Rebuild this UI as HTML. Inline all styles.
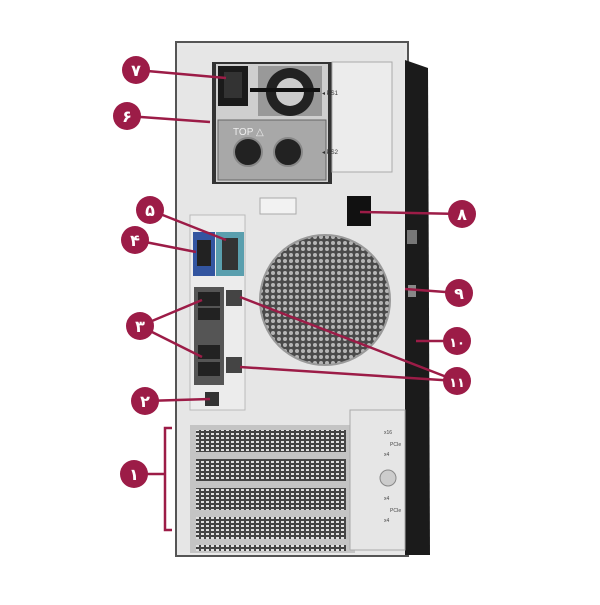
<!DOCTYPE html>
<html><head><meta charset="utf-8"><style>
body{margin:0;width:600px;height:600px;background:#fff;overflow:hidden;font-family:"Liberation Sans","DejaVu Sans",sans-serif}
</style></head><body>
<svg width="600" height="600" viewBox="0 0 600 600" xmlns="http://www.w3.org/2000/svg">
<defs>
<pattern id="mesh" width="6" height="6" patternUnits="userSpaceOnUse"><rect width="6" height="6" fill="#4a4a4a"/><circle cx="3" cy="3" r="2" fill="#b5b5b5"/></pattern>
<pattern id="grille" width="5" height="4" patternUnits="userSpaceOnUse"><rect width="5" height="4" fill="#444"/><rect x="1" y="1" width="3" height="2" fill="#e0e0e0"/></pattern>
</defs>
<rect x="176" y="42" width="232" height="514" fill="#e8e8e8" stroke="#555" stroke-width="2"/>
<rect x="180" y="46" width="224" height="506" fill="#e6e6e6"/>
<path d="M405 60 L428 68 L430 555 L405 555 Z" fill="#1b1b1b"/>
<rect x="407" y="230" width="10" height="14" fill="#777"/>
<rect x="408" y="285" width="8" height="12" fill="#888"/>
<rect x="212" y="62" width="120" height="122" fill="#333"/>
<rect x="216" y="64" width="112" height="118" fill="#cfcfcf"/>
<rect x="332" y="62" width="60" height="110" fill="#ececec" stroke="#aaa"/>
<rect x="218" y="66" width="30" height="40" fill="#1a1a1a"/>
<rect x="224" y="72" width="18" height="26" fill="#333"/>
<rect x="258" y="66" width="64" height="50" fill="#999"/>
<circle cx="290" cy="92" r="24" fill="#222"/>
<circle cx="290" cy="92" r="14" fill="#ccc"/>
<rect x="250" y="88" width="70" height="4" fill="#111"/>
<rect x="218" y="120" width="108" height="60" fill="#a8a8a8" stroke="#666"/>
<text x="233" y="135" font-size="10" fill="#eee">TOP △</text>
<circle cx="248" cy="152" r="14" fill="#222" stroke="#888" stroke-width="2"/>
<circle cx="288" cy="152" r="14" fill="#222" stroke="#888" stroke-width="2"/>
<text x="322" y="95" font-size="6" fill="#333">◂ PS1</text>
<text x="322" y="154" font-size="6" fill="#333">◂ PS2</text>
<rect x="260" y="198" width="36" height="16" fill="#f2f2f2" stroke="#aaa"/>
<rect x="347" y="196" width="24" height="30" fill="#111"/>
<rect x="190" y="215" width="55" height="195" fill="#ececec" stroke="#bbb"/>
<rect x="193" y="232" width="22" height="44" fill="#3355a0"/>
<rect x="197" y="240" width="14" height="26" fill="#222"/>
<rect x="216" y="232" width="28" height="44" fill="#5a9fae"/>
<rect x="222" y="238" width="16" height="32" fill="#333"/>
<rect x="194" y="287" width="30" height="98" fill="#555"/>
<rect x="198" y="292" width="22" height="14" fill="#222"/><rect x="198" y="308" width="22" height="12" fill="#222"/>
<rect x="198" y="345" width="22" height="14" fill="#222"/><rect x="198" y="362" width="22" height="14" fill="#222"/>
<rect x="226" y="290" width="16" height="16" fill="#444"/>
<rect x="226" y="357" width="16" height="16" fill="#444"/>
<rect x="205" y="392" width="14" height="14" fill="#333"/>
<circle cx="325" cy="300" r="65" fill="url(#mesh)"/>
<circle cx="325" cy="300" r="65" fill="none" stroke="#999" stroke-width="2"/>
<rect x="190" y="425" width="165" height="128" fill="#c4c4c4"/>
<rect x="196" y="430" width="150" height="22" fill="url(#grille)"/>
<rect x="196" y="459" width="150" height="22" fill="url(#grille)"/>
<rect x="196" y="488" width="150" height="22" fill="url(#grille)"/>
<rect x="196" y="517" width="150" height="22" fill="url(#grille)"/>
<rect x="196" y="545" width="150" height="6" fill="url(#grille)"/>
<rect x="350" y="410" width="55" height="140" fill="#e6e6e6" stroke="#aaa"/>
<circle cx="388" cy="478" r="8" fill="#ccc" stroke="#888"/>
<g font-size="5" fill="#444"><text x="384" y="434">x16</text><text x="384" y="456">x4</text><text x="384" y="500">x4</text><text x="384" y="522">x4</text><text x="390" y="446">PCIe</text><text x="390" y="512">PCIe</text></g>
<g stroke="#9c1c47" stroke-width="2.5" fill="none">
<line x1="136" y1="70" x2="226" y2="78"/>
<line x1="127" y1="116" x2="210" y2="122"/>
<line x1="150" y1="210" x2="226" y2="240"/>
<line x1="135" y1="240" x2="196" y2="252"/>
<line x1="140" y1="326" x2="202" y2="300"/>
<line x1="140" y1="326" x2="202" y2="357"/>
<line x1="145" y1="401" x2="210" y2="399"/>
<line x1="134" y1="474" x2="165" y2="474"/>
<path d="M172 428 H165 V530 H172"/>
<line x1="462" y1="214" x2="360" y2="212"/>
<line x1="459" y1="293" x2="405" y2="289"/>
<line x1="457" y1="341" x2="416" y2="341"/>
<line x1="457" y1="381" x2="240" y2="297"/>
<line x1="457" y1="381" x2="240" y2="367"/>
</g>
<g fill="#9c1c47">
<circle cx="136" cy="70" r="14"/><circle cx="127" cy="116" r="14"/><circle cx="150" cy="210" r="14"/><circle cx="135" cy="240" r="14"/>
<circle cx="140" cy="326" r="14"/><circle cx="145" cy="401" r="14"/><circle cx="134" cy="474" r="14"/>
<circle cx="462" cy="214" r="14"/><circle cx="459" cy="293" r="14"/><circle cx="457" cy="341" r="14"/><circle cx="457" cy="381" r="14"/>
</g>
<g fill="#fff" font-size="16" font-weight="bold" text-anchor="middle" font-family="'DejaVu Sans',sans-serif">
<text x="136" y="76">۷</text><text x="127" y="122">۶</text><text x="150" y="216">۵</text><text x="135" y="246">۴</text>
<text x="140" y="332">۳</text><text x="145" y="407">۲</text><text x="134" y="480">۱</text>
<text x="462" y="220">۸</text><text x="459" y="299">۹</text><text x="457" y="347" font-size="13">۱۰</text><text x="457" y="387" font-size="13">۱۱</text>
</g>
</svg>
</body></html>
